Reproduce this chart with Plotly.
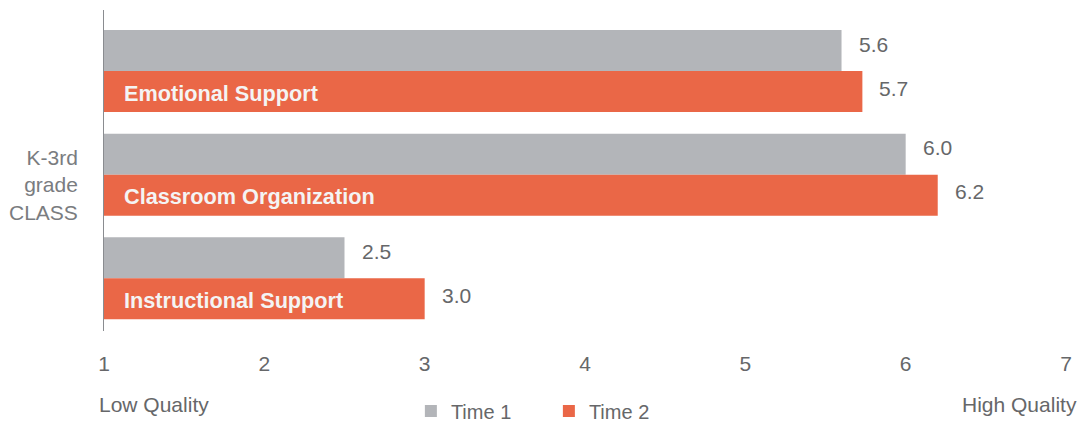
import plotly.graph_objects as go

categories = ["Emotional Support", "Classroom Organization", "Instructional Support"]
time1 = [5.6, 6.0, 2.5]
time2 = [5.73, 6.2, 3.0]
series_names = ["Time 1", "Time 2"]
x_ticks = [1, 2, 3, 4, 5, 6, 7]

GREY = "#B3B5B9"
ORANGE = "#EA6747"
TXT = "#666769"
FONT = "Liberation Sans, Arial, Helvetica, sans-serif"

fig = go.Figure()
fig.add_trace(go.Bar(y=categories, x=time1, orientation="h", name=series_names[0],
                     marker=dict(color=GREY, line=dict(width=0)), hoverinfo="skip"))
fig.add_trace(go.Bar(y=categories, x=time2, orientation="h", name=series_names[1],
                     marker=dict(color=ORANGE, line=dict(width=0)), hoverinfo="skip"))

annotations = []
for cat, v1, v2 in zip(categories, time1, time2):
    annotations.append(dict(x=v1, y=cat, xref="x", yref="y", text=f"{v1:.1f}", showarrow=False,
                            xanchor="left", yanchor="middle", xshift=15, yshift=27,
                            font=dict(size=21, color=TXT, family=FONT)))
    annotations.append(dict(x=v2, y=cat, xref="x", yref="y", text=f"{v2:.1f}", showarrow=False,
                            xanchor="left", yanchor="middle", xshift=15, yshift=-17,
                            font=dict(size=21, color=TXT, family=FONT)))
    annotations.append(dict(x=x_ticks[0], y=cat, xref="x", yref="y", text=f"<b>{cat}</b>", showarrow=False,
                            xanchor="left", yanchor="middle", xshift=18, yshift=-22,
                            font=dict(size=21.7, color="#F4F4F4", family=FONT)))

annotations.append(dict(x=-0.025, y=0.455, xref="paper", yref="paper", text="K-3rd<br>grade<br>CLASS",
                        showarrow=False, xanchor="right", yanchor="middle", align="right",
                        font=dict(size=21, color="#7A7C80", family=FONT)))
annotations.append(dict(x=-0.0073, y=-0.2305, xref="paper", yref="paper", text="Low Quality",
                        showarrow=False, xanchor="left", yanchor="middle",
                        font=dict(size=21, color=TXT, family=FONT)))
annotations.append(dict(x=1.0135, y=-0.2305, xref="paper", yref="paper", text="High Quality",
                        showarrow=False, xanchor="right", yanchor="middle",
                        font=dict(size=21, color=TXT, family=FONT)))

fig.update_layout(
    width=1081, height=422,
    margin=dict(l=104, r=15, t=10, b=91, autoexpand=False),
    paper_bgcolor="white", plot_bgcolor="white",
    barmode="group", bargap=0.208, bargroupgap=0,
    font=dict(family=FONT, size=21, color=TXT),
    xaxis=dict(range=[1, 7], tickvals=x_ticks, ticktext=[str(t) for t in x_ticks],
               showgrid=False, zeroline=False, showline=False, ticks="",
               ticklabelstandoff=18, tickfont=dict(size=21, color=TXT, family=FONT)),
    yaxis=dict(range=[2.51, -0.59], showticklabels=False, showgrid=False, zeroline=False,
               showline=True, linecolor="#8A8C90", linewidth=1.2, ticks=""),
    legend=dict(orientation="h", x=0.319, y=-0.249, xanchor="left", yanchor="middle",
                entrywidth=93, entrywidthmode="pixels",
                font=dict(size=20, color=TXT, family=FONT), bgcolor="rgba(0,0,0,0)"),
    annotations=annotations,
    showlegend=True,
)

fig.write_html("out.html")
